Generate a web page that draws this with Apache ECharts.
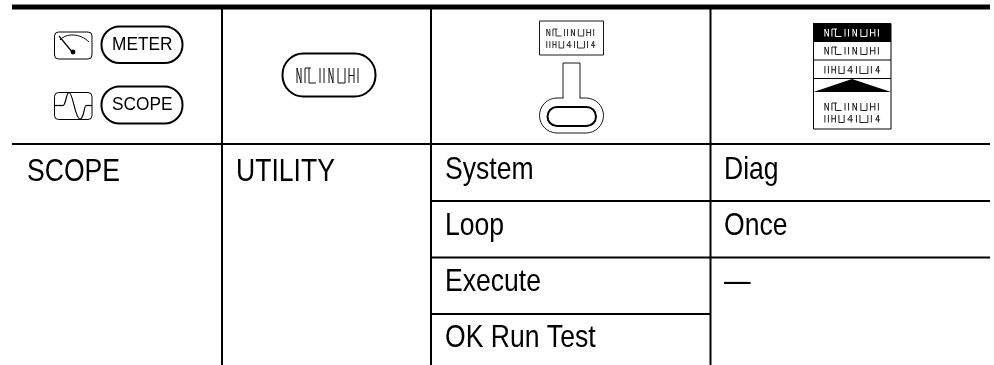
<!DOCTYPE html>
<html><head><meta charset="utf-8">
<style>html,body{margin:0;padding:0;background:#fff}#c{width:994px;height:365px}</style>
<script src="https://cdn.jsdelivr.net/npm/echarts@6/dist/echarts.min.js"></script>
</head><body><div id="c"></div>
<script>
// Table content
const headerButtons = ['METER', 'SCOPE'];
const column1 = ['SCOPE'];
const column2 = ['UTILITY'];
const column3 = ['System', 'Loop', 'Execute', 'OK Run Test'];
const column4 = ['Diag', 'Once', '—'];

// Placeholder "illegible label" glyph strokes, width 65 units, height 1
const wordA = [
  [[1,1],[1,0],[5,1],[5,0]], [[9,1],[9,0],[15,0]], [[13,0],[13,1],[20,1]],
  [[24,0],[24,1]], [[28,0],[28,1]], [[33,1],[33,0],[37,1],[37,0]],
  [[42,0],[42,1],[49,1],[49,0]], [[53,0],[53,1]], [[53,.5],[58,.5]], [[58,0],[58,1]],
  [[62,0],[62,1]]
];
const wordB = [
  [[1,0],[1,1]], [[5,0],[5,1]], [[9,0],[9,1]], [[9,.5],[13,.5]], [[13,0],[13,1]],
  [[17,0],[17,1],[23,1],[23,0]], [[27,.65],[31,0],[31,1]], [[27,.65],[33,.65]],
  [[37,0],[37,1]], [[41,0],[41,1]], [[41,1],[47,1]], [[47,1],[50,1],[50,0]],
  [[54,0],[54,1]], [[59,.65],[62,0],[62,1]], [[59,.65],[64,.65]]
];

const K = '#000';
const g = [];
const line = (x1,y1,x2,y2,w,c) => g.push({type:'line',silent:true,shape:{x1,y1,x2,y2},style:{stroke:c||K,lineWidth:w}});
const rrect = (x,y,width,height,r,w,fill) => g.push({type:'rect',silent:true,shape:{x,y,width,height,r},style:{stroke:K,lineWidth:w,fill:fill||'#fff'}});
const fillRect = (x,y,width,height,c) => g.push({type:'rect',silent:true,shape:{x,y,width,height},style:{fill:c}});
const bez = (x1,y1,cpx1,cpy1,cpx2,cpy2,x2,y2,w) => g.push({type:'bezierCurve',silent:true,shape:{x1,y1,cpx1,cpy1,cpx2,cpy2,x2,y2},style:{stroke:K,lineWidth:w,fill:null}});
const text = (s,x,y,size,sx) => g.push({type:'text',silent:true,x,y,scaleX:sx,
  style:{text:s,x:0,y:0,fill:K,font:`${size}px "Liberation Sans"`,textAlign:'left',verticalAlign:'middle'}});
const word = (glyphs,x,y,w,h,color,lw) => glyphs.forEach(p => g.push({type:'polyline',silent:true,
  shape:{points:p.map(q=>[x+q[0]/65*w,y+q[1]*h])},style:{stroke:color||'#222',lineWidth:lw||1,fill:null}}));

// Table rules
fillRect(12,4.5,978,5,K);
line(222,9,222,365,2); line(431,9,431,365,2); line(710.5,9,710.5,365,2);
line(12,144,990,144,2);
line(431,201,990,201,2); line(431,257.5,990,257.5,2); line(431,314,710.5,314,2);

// Body text
const NAR = 0.83, SZ = 32;
const rowY = [170.5, 226.5, 282.5, 338.5];
text(column1[0], 27, 172, SZ, NAR);
text(column2[0], 236, 172, SZ, NAR);
column3.forEach((s,i)=>text(s,445,rowY[i],SZ,NAR));
column4.forEach((s,i)=>text(s,724,rowY[i],SZ,NAR));

// Meter / Scope icons and buttons
rrect(54.5,32,37.5,27,4,1);
bez(60,40,66,33,80,33,89,42,1);
line(59,36,73,53,1.2);
g.push({type:'circle',silent:true,shape:{cx:73,cy:52,r:2.4},style:{fill:K}});
rrect(101.5,26.5,81,36.5,18,2);
text(headerButtons[0],112,45,18,0.96);
rrect(54.5,92.5,37.5,27,4,1);
line(54.5,105.5,63,105.5,1.2);
bez(63,105.5,66,105.5,66,92.5,69,92.5,1.2);
bez(69,92.5,73,92.5,75,119,80,119,1.2);
bez(80,119,84,119,84,105.5,86,105.5,1.2);
line(86,105.5,92,105.5,1.2);
rrect(101.5,86.5,81,37,18,2);
text(headerButtons[1],112,105,18,0.96);

// Unlabelled button
rrect(282.5,53.5,93,43,21,2);
word(wordA,296,68,65,15,'#111',1);

// Key icon
rrect(539.5,21,64,34,0,0.9);
word(wordA,546,29,50,7,'#333',1);
word(wordB,546,41,50,7,'#333',1);
rrect(539.5,98,64,35,17.5,0.9);
fillRect(563.5,96,16,4,'#fff');
line(563,63,563,98,0.9); line(580,63,580,98,0.9); line(563,63,580,63,0.9);
rrect(547.5,107,48.5,19,9.5,2);

// Menu icon
rrect(813.5,23.5,77.5,105.5,0,1);
fillRect(813,23,78,19,K);
line(813.5,60,891,60,1); line(813.5,78.5,891,78.5,1);
g.push({type:'polygon',silent:true,shape:{points:[[813.5,92],[852,79],[891,92]]},style:{fill:K}});
word(wordA,824,29,57,7.5,'#fff',1);
word(wordA,824,47,57,7.5,'#222',1);
word(wordB,824,66,57,7.5,'#222',1);
word(wordA,824,103,57,7.5,'#222',1);
word(wordB,824,115,57,7.5,'#222',1);

const chart = echarts.init(document.getElementById('c'),null,{renderer:'canvas'});
chart.setOption({animation:false,backgroundColor:'#fff',graphic:{elements:g}});
</script></body></html>
